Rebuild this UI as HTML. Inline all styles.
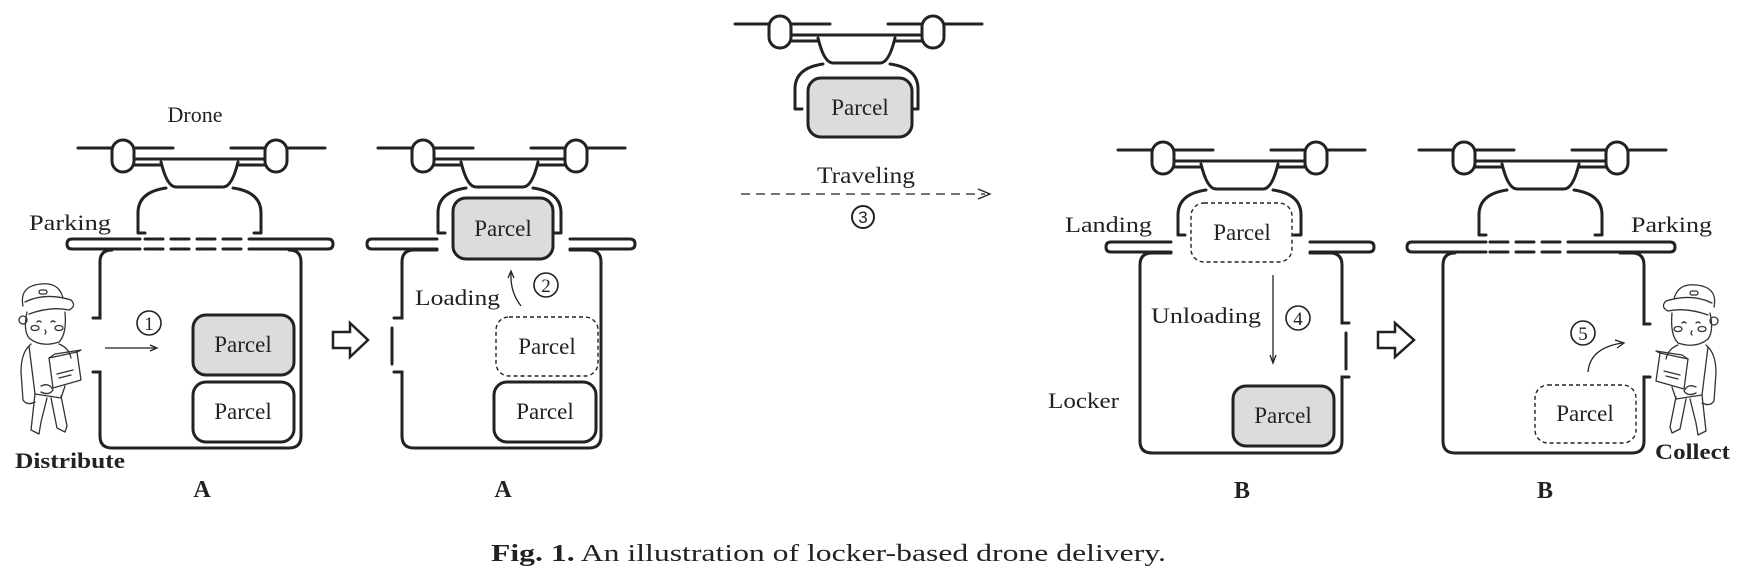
<!DOCTYPE html>
<html><head><meta charset="utf-8"><style>
html,body{margin:0;padding:0;background:#fff;}
svg{display:block;}
text{font-family:"Liberation Serif",serif;fill:#222;}
</style></head><body>
<svg width="1749" height="581" viewBox="0 0 1749 581" xmlns="http://www.w3.org/2000/svg">
<defs>
<g id="drone" fill="none" stroke="#222" stroke-width="3" stroke-linecap="round" stroke-linejoin="round">
  <line x1="-45" y1="0" x2="50" y2="0"/>
  <line x1="108" y1="0" x2="202" y2="0"/>
  <line x1="11" y1="11" x2="142" y2="11"/>
  <line x1="11" y1="17" x2="142" y2="17"/>
  <rect x="-11" y="-8" width="22" height="32" rx="11" fill="#fff"/>
  <rect x="142" y="-8" width="22" height="32" rx="11" fill="#fff"/>
  <path d="M38,14 Q44,39 53,39 L100,39 Q109,39 115,14" fill="#fff"/>
  <path d="M43,40 Q15,44 15,65 L15,85 L22,85"/>
  <path d="M110,40 Q138,44 138,65 L138,85 L131,85"/>
</g>
<g id="person" fill="none" stroke="#333" stroke-width="1.3" stroke-linecap="round" stroke-linejoin="round">
  <path d="M8,24 Q4,4 26,2 Q44,0 48,16"/>
  <path d="M10,20 Q30,10 56,18 Q62,24 54,28 Q36,24 14,32"/>
  <rect x="24" y="8" width="8" height="4" rx="2"/>
  <path d="M12,30 Q8,48 14,56 Q26,66 44,60 Q52,52 50,30"/>
  <circle cx="8" cy="38" r="4"/>
  <ellipse cx="20" cy="46" rx="4" ry="2.5"/>
  <ellipse cx="44" cy="46" rx="4" ry="2.5"/>
  <path d="M22,40 q2,-2 4,0 M36,40 q2,-2 4,0 M30,48 q2,2 0,4"/>
  <path d="M16,62 Q6,70 6,90 L8,118 Q12,124 20,120"/>
  <path d="M44,62 Q54,66 56,76"/>
  <path d="M14,64 L20,112 L46,116 L50,104"/>
  <path d="M34,76 L62,70 L66,98 L38,106 Z"/>
  <path d="M34,76 L40,72 L66,68 L62,70"/>
  <path d="M42,92 L58,88 M44,96 L56,93"/>
  <path d="M20,112 L16,148 L24,152 L26,140 L32,116"/>
  <path d="M36,116 L42,146 L50,150 L52,144 L46,114"/>
  <path d="M26,104 Q34,100 38,108 Q34,114 26,110"/>
</g>
</defs>

<!-- ===== Panel 1 ===== -->
<text x="195" y="122" font-size="22" text-anchor="middle">Drone</text>
<use href="#drone" x="123" y="148"/>
<text x="29" y="230" font-size="22" textLength="82" lengthAdjust="spacingAndGlyphs">Parking</text>
<g fill="none" stroke="#222" stroke-width="3" stroke-linecap="round">
  <path d="M140,239 L72,239 Q67,239 67,244 Q67,249 72,249 L140,249"/>
  <path d="M263,239 L328,239 Q333,239 333,244 Q333,249 328,249 L263,249"/>
  <path d="M145,239 L263,239 M145,249 L263,249" stroke-dasharray="18,8"/>
  <path d="M93,318 L100,318 L100,262 Q100,250 112,250"/>
  <path d="M289,250 Q301,250 301,262 L301,436 Q301,448 289,448 L112,448 Q100,448 100,436 L100,372 L93,372"/>
  <rect x="193" y="315" width="101" height="60" rx="13" fill="#dcdcdc"/>
  <rect x="193" y="382" width="101" height="60" rx="13" fill="#fff"/>
</g>
<text x="243" y="352" font-size="23" text-anchor="middle">Parcel</text>
<text x="243" y="419" font-size="23" text-anchor="middle">Parcel</text>
<circle cx="149" cy="323" r="12" fill="none" stroke="#222" stroke-width="1.6"/>
<text x="149" y="330" font-size="19" text-anchor="middle">1</text>
<line x1="105" y1="348" x2="155" y2="348" stroke="#222" stroke-width="1.3"/>
<path d="M150,345 L157,348 L150,351" fill="none" stroke="#222" stroke-width="1.3"/>
<use href="#person" x="15" y="282"/>
<text x="15" y="468" font-size="22" font-weight="bold" textLength="110" lengthAdjust="spacingAndGlyphs">Distribute</text>
<text x="202" y="497" font-size="24" font-weight="bold" text-anchor="middle">A</text>

<path d="M333,332 L350,332 L350,323 L368,340 L350,357 L350,348 L333,348 Z" fill="#fff" stroke="#222" stroke-width="2.5" stroke-linejoin="miter"/>

<!-- ===== Panel 2 ===== -->
<use href="#drone" x="423" y="148"/>
<g fill="none" stroke="#222" stroke-width="3" stroke-linecap="round">
  <path d="M437,239 L372,239 Q367,239 367,244 Q367,249 372,249 L437,249"/>
  <path d="M570,239 L630,239 Q635,239 635,244 Q635,249 630,249 L570,249"/>
  <path d="M394,318 L402,318 L402,262 Q402,250 414,250 L437,250"/>
  <path d="M570,250 L589,250 Q601,250 601,262 L601,436 Q601,448 589,448 L414,448 Q402,448 402,436 L402,372 L394,372"/>
  <line x1="392" y1="328" x2="392" y2="364"/>
  <rect x="453" y="198" width="100" height="61" rx="13" fill="#dcdcdc"/>
  <rect x="494" y="382" width="102" height="60" rx="13" fill="#fff"/>
</g>
<rect x="496" y="317" width="102" height="59" rx="13" fill="none" stroke="#222" stroke-width="1.4" stroke-dasharray="4,3"/>
<text x="503" y="236" font-size="23" text-anchor="middle">Parcel</text>
<text x="547" y="354" font-size="23" text-anchor="middle">Parcel</text>
<text x="545" y="419" font-size="23" text-anchor="middle">Parcel</text>
<text x="415" y="305" font-size="22" textLength="85" lengthAdjust="spacingAndGlyphs">Loading</text>
<path d="M521,306 Q510,292 511,273" fill="none" stroke="#222" stroke-width="1.3"/>
<path d="M508,278 L511,271 L514,278" fill="none" stroke="#222" stroke-width="1.3"/>
<circle cx="546" cy="285" r="12" fill="none" stroke="#222" stroke-width="1.6"/>
<text x="546" y="292" font-size="19" text-anchor="middle">2</text>
<text x="503" y="497" font-size="24" font-weight="bold" text-anchor="middle">A</text>

<!-- ===== Middle traveling drone ===== -->
<use href="#drone" x="780" y="24"/>
<rect x="808" y="78" width="104" height="59" rx="13" fill="#dcdcdc" stroke="#222" stroke-width="3"/>
<text x="860" y="115" font-size="23" text-anchor="middle">Parcel</text>
<text x="866" y="183" font-size="23" text-anchor="middle" textLength="98" lengthAdjust="spacingAndGlyphs">Traveling</text>
<line x1="741" y1="194" x2="985" y2="194" stroke="#222" stroke-width="1.3" stroke-dasharray="9,6"/>
<path d="M978,189 L990,194 L978,199" fill="none" stroke="#222" stroke-width="1.3"/>
<circle cx="863" cy="217" r="11" fill="none" stroke="#222" stroke-width="2"/>
<text x="863" y="223" font-size="17" text-anchor="middle" style="font-family:'Liberation Sans',sans-serif">3</text>

<!-- ===== Panel 3 ===== -->
<use href="#drone" x="1163" y="150"/>
<text x="1065" y="232" font-size="22" textLength="87" lengthAdjust="spacingAndGlyphs">Landing</text>
<g fill="none" stroke="#222" stroke-width="3" stroke-linecap="round">
  <path d="M1171,242 L1111,242 Q1106,242 1106,247 Q1106,252 1111,252 L1171,252"/>
  <path d="M1310,242 L1369,242 Q1374,242 1374,247 Q1374,252 1369,252 L1310,252"/>
  <path d="M1171,253 L1152,253 Q1140,253 1140,265 L1140,441 Q1140,453 1152,453 L1330,453 Q1342,453 1342,441 L1342,377 L1349,377"/>
  <path d="M1310,253 L1330,253 Q1342,253 1342,265 L1342,323 L1349,323"/>
  <line x1="1346" y1="333" x2="1346" y2="369"/>
  <rect x="1233" y="386" width="101" height="60" rx="13" fill="#dcdcdc"/>
</g>
<rect x="1191" y="203" width="101" height="59" rx="13" fill="none" stroke="#222" stroke-width="1.4" stroke-dasharray="4,3"/>
<text x="1242" y="240" font-size="23" text-anchor="middle">Parcel</text>
<text x="1283" y="423" font-size="23" text-anchor="middle">Parcel</text>
<line x1="1273" y1="275" x2="1273" y2="361" stroke="#222" stroke-width="1.3"/>
<path d="M1270,355 L1273,363 L1276,355" fill="none" stroke="#222" stroke-width="1.3"/>
<text x="1151" y="323" font-size="22" textLength="110" lengthAdjust="spacingAndGlyphs">Unloading</text>
<circle cx="1298" cy="318" r="12" fill="none" stroke="#222" stroke-width="1.6"/>
<text x="1298" y="325" font-size="19" text-anchor="middle">4</text>
<text x="1048" y="408" font-size="22" textLength="71" lengthAdjust="spacingAndGlyphs">Locker</text>
<text x="1242" y="498" font-size="24" font-weight="bold" text-anchor="middle">B</text>

<path d="M1378,332 L1395,332 L1395,323 L1414,340 L1395,357 L1395,348 L1378,348 Z" fill="#fff" stroke="#222" stroke-width="2.5"/>

<!-- ===== Panel 4 ===== -->
<use href="#drone" x="1464" y="150"/>
<text x="1631" y="232" font-size="22" textLength="81" lengthAdjust="spacingAndGlyphs">Parking</text>
<g fill="none" stroke="#222" stroke-width="3" stroke-linecap="round">
  <path d="M1486,242 L1412,242 Q1407,242 1407,247 Q1407,252 1412,252 L1486,252"/>
  <path d="M1586,242 L1670,242 Q1675,242 1675,247 Q1675,252 1670,252 L1586,252"/>
  <path d="M1490,242 L1586,242 M1490,252 L1586,252" stroke-dasharray="18,8"/>
  <path d="M1455,253 Q1443,253 1443,265 L1443,441 Q1443,453 1455,453 L1632,453 Q1644,453 1644,441 L1644,377 L1650,377"/>
  <path d="M1620,253 L1632,253 Q1644,253 1644,265 L1644,324 L1650,324"/>
</g>
<rect x="1535" y="385" width="101" height="58" rx="13" fill="none" stroke="#222" stroke-width="1.4" stroke-dasharray="4,3"/>
<text x="1585" y="421" font-size="23" text-anchor="middle">Parcel</text>
<circle cx="1583" cy="333" r="12" fill="none" stroke="#222" stroke-width="1.6"/>
<text x="1583" y="340" font-size="19" text-anchor="middle">5</text>
<path d="M1588,372 Q1590,348 1622,343" fill="none" stroke="#222" stroke-width="1.3"/>
<path d="M1615,340 L1624,343 L1617,348" fill="none" stroke="#222" stroke-width="1.3"/>
<use href="#person" transform="translate(1722,283) scale(-1,1)"/>
<text x="1655" y="459" font-size="22" font-weight="bold" textLength="75" lengthAdjust="spacingAndGlyphs">Collect</text>
<text x="1545" y="498" font-size="24" font-weight="bold" text-anchor="middle">B</text>

<!-- Caption -->
<text x="491" y="561" font-size="24" textLength="675" lengthAdjust="spacingAndGlyphs"><tspan font-weight="bold">Fig. 1.</tspan>  An illustration of locker-based drone delivery.</text>
</svg>
</body></html>
